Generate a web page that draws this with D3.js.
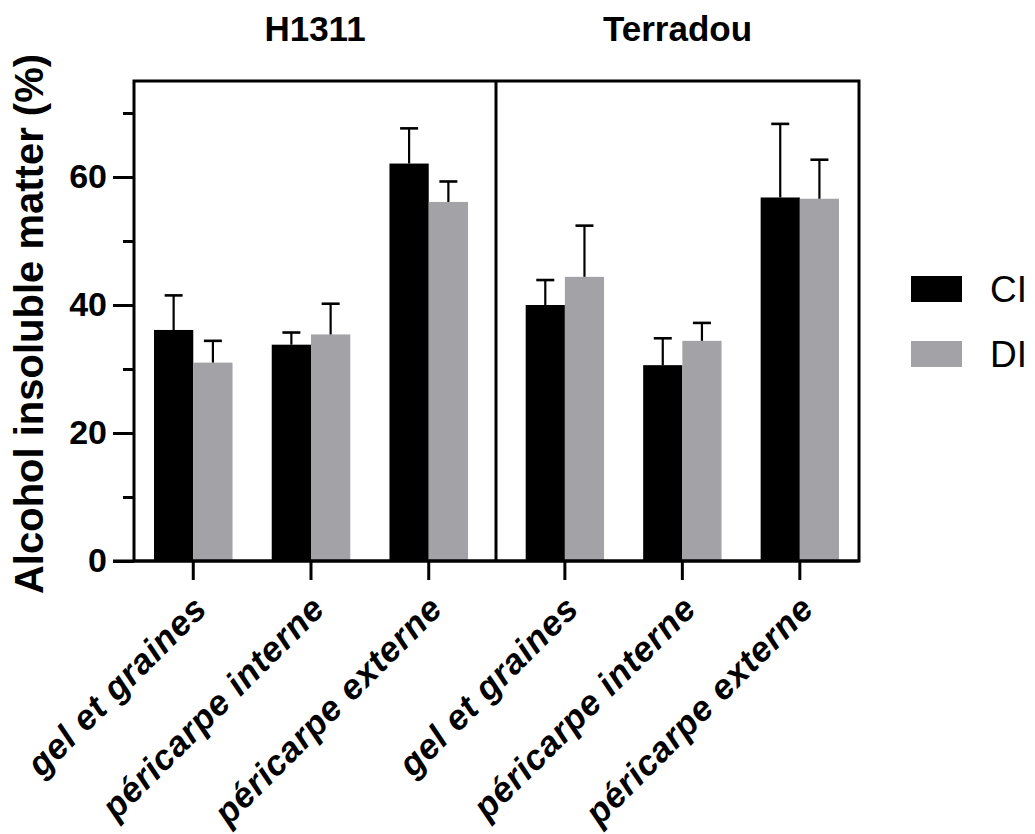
<!DOCTYPE html>
<html>
<head>
<meta charset="utf-8">
<script src="https://cdn.jsdelivr.net/npm/d3@7"></script>
<style>
  html, body { margin: 0; padding: 0; background: #fff; }
  svg { display: block; }
  text { font-family: "Liberation Sans", Arial, sans-serif; fill: #000; }
</style>
</head>
<body>
<svg id="chart" width="1035" height="834"></svg>
<script>
// ---- data ----
const panels = ["H1311", "Terradou"];
const categories = ["gel et graines", "péricarpe interne", "péricarpe externe"];
const series = ["CI", "DI"];

const h1311CI = [36.1, 33.8, 62.1];
const h1311CIerr = [5.4, 1.9, 5.5];
const h1311DI = [31.0, 35.4, 56.1];
const h1311DIerr = [3.4, 4.8, 3.2];

const terradouCI = [40.0, 30.6, 56.8];
const terradouCIerr = [3.9, 4.2, 11.5];
const terradouDI = [44.4, 34.4, 56.6];
const terradouDIerr = [8.0, 2.8, 6.1];

const yMajorTicks = [0, 20, 40, 60];
const yMinorTicks = [10, 30, 50, 70];
const yMax = 75;

const colors = { CI: "#000000", DI: "#a3a2a7" };

// ---- layout ----
const svg = d3.select("#chart");
const frameLeft = 134, frameRight = 859, frameTop = 81, frameBottom = 561, divider = 496;
const panelBars = [[154, 468], [525.7, 839]];
const panelFrames = [[frameLeft, divider], [divider, frameRight]];
const majorLen = 21, minorLen = 11, xTickLen = 19;

const y = d3.scaleLinear().domain([0, yMax]).range([frameBottom, frameTop]);

const panelData = [
  { name: panels[0], CI: h1311CI, CIerr: h1311CIerr, DI: h1311DI, DIerr: h1311DIerr },
  { name: panels[1], CI: terradouCI, CIerr: terradouCIerr, DI: terradouDI, DIerr: terradouDIerr }
];

// bars
panelData.forEach((p, pi) => {
  const x0 = d3.scaleBand().domain(categories).range(panelBars[pi]).paddingInner(0.333).paddingOuter(0);
  const x1 = d3.scaleBand().domain(series).range([0, x0.bandwidth()]).padding(0);
  const g = svg.append("g");
  const rows = [];
  categories.forEach((c, ci) => {
    series.forEach(s => rows.push({ cat: c, s, v: p[s][ci], e: p[s + "err"][ci] }));
  });
  g.selectAll("rect.bar").data(rows).join("rect")
    .attr("class", "bar")
    .attr("x", d => x0(d.cat) + x1(d.s))
    .attr("y", d => y(d.v))
    .attr("width", x1.bandwidth())
    .attr("height", d => y(0) - y(d.v))
    .attr("fill", d => colors[d.s]);
  // error bars
  const eb = g.selectAll("g.err").data(rows).join("g").attr("class", "err")
    .attr("transform", d => `translate(${x0(d.cat) + x1(d.s) + x1.bandwidth() / 2},0)`);
  eb.append("line").attr("x1", 0).attr("x2", 0)
    .attr("y1", d => y(d.v)).attr("y2", d => y(d.v + d.e))
    .attr("stroke", "#000").attr("stroke-width", 2.2);
  eb.append("line").attr("x1", -9).attr("x2", 9)
    .attr("y1", d => y(d.v + d.e)).attr("y2", d => y(d.v + d.e))
    .attr("stroke", "#000").attr("stroke-width", 2.6);

  // bottom axis for the panel
  const ax = svg.append("g").attr("transform", `translate(0,${frameBottom})`)
    .call(d3.axisBottom(x0).tickSize(xTickLen).tickPadding(0));
  ax.select(".domain").remove();
  ax.selectAll(".tick line").attr("stroke", "#000").attr("stroke-width", 3);
  ax.selectAll(".tick text")
    .attr("x", 0).attr("y", 0).attr("dy", "0.35em")
    .attr("transform", "translate(7,41) rotate(-45)")
    .style("text-anchor", "end")
    .style("font-size", "35px").style("font-weight", "bold").style("font-style", "italic")
    .style("letter-spacing", "0.8px")
    .style("font-family", '"Liberation Sans", Arial, sans-serif')
    .attr("fill", "#000");

  // panel title
  svg.append("text")
    .attr("x", (panelFrames[pi][0] + panelFrames[pi][1]) / 2)
    .attr("y", 41)
    .attr("text-anchor", "middle")
    .style("font-size", "35px").style("font-weight", "bold")
    .text(p.name);
});

// y axis (major)
const yAx = svg.append("g").attr("transform", `translate(${frameLeft},0)`)
  .call(d3.axisLeft(y).tickValues(yMajorTicks).tickSize(majorLen).tickPadding(6).tickFormat(d3.format("d")));
yAx.select(".domain").remove();
yAx.selectAll(".tick line").attr("stroke", "#000").attr("stroke-width", 3);
yAx.selectAll(".tick text")
  .style("font-size", "34px").style("font-weight", "bold")
  .style("font-family", '"Liberation Sans", Arial, sans-serif').attr("fill", "#000");
// y axis (minor)
const yMin = svg.append("g").attr("transform", `translate(${frameLeft},0)`)
  .call(d3.axisLeft(y).tickValues(yMinorTicks).tickSize(minorLen).tickFormat(""));
yMin.select(".domain").remove();
yMin.selectAll(".tick line").attr("stroke", "#000").attr("stroke-width", 3);

// frame
svg.append("rect")
  .attr("x", frameLeft).attr("y", y(yMax))
  .attr("width", frameRight - frameLeft).attr("height", y(0) - y(yMax))
  .attr("fill", "none").attr("stroke", "#000").attr("stroke-width", 3);
svg.append("line").attr("x1", divider).attr("x2", divider)
  .attr("y1", y(yMax)).attr("y2", y(0)).attr("stroke", "#000").attr("stroke-width", 3);
// baseline extension to the left
svg.append("line").attr("x1", frameLeft - majorLen).attr("x2", frameRight)
  .attr("y1", y(0)).attr("y2", y(0)).attr("stroke", "#000").attr("stroke-width", 3);

// y label
svg.append("text")
  .attr("transform", `translate(43,${(frameTop + frameBottom) / 2 + 3}) rotate(-90)`)
  .attr("text-anchor", "middle")
  .style("font-size", "40px").style("font-weight", "bold")
  .text("Alcohol insoluble matter (%)");

// legend
const leg = svg.append("g");
series.forEach((s, i) => {
  const gy = 276 + i * 65;
  leg.append("rect").attr("x", 911).attr("y", gy).attr("width", 51).attr("height", 26).attr("fill", colors[s]);
  leg.append("text").attr("x", 990).attr("y", gy + 26)
    .style("font-size", "37px").text(s);
});
</script>
</body>
</html>
